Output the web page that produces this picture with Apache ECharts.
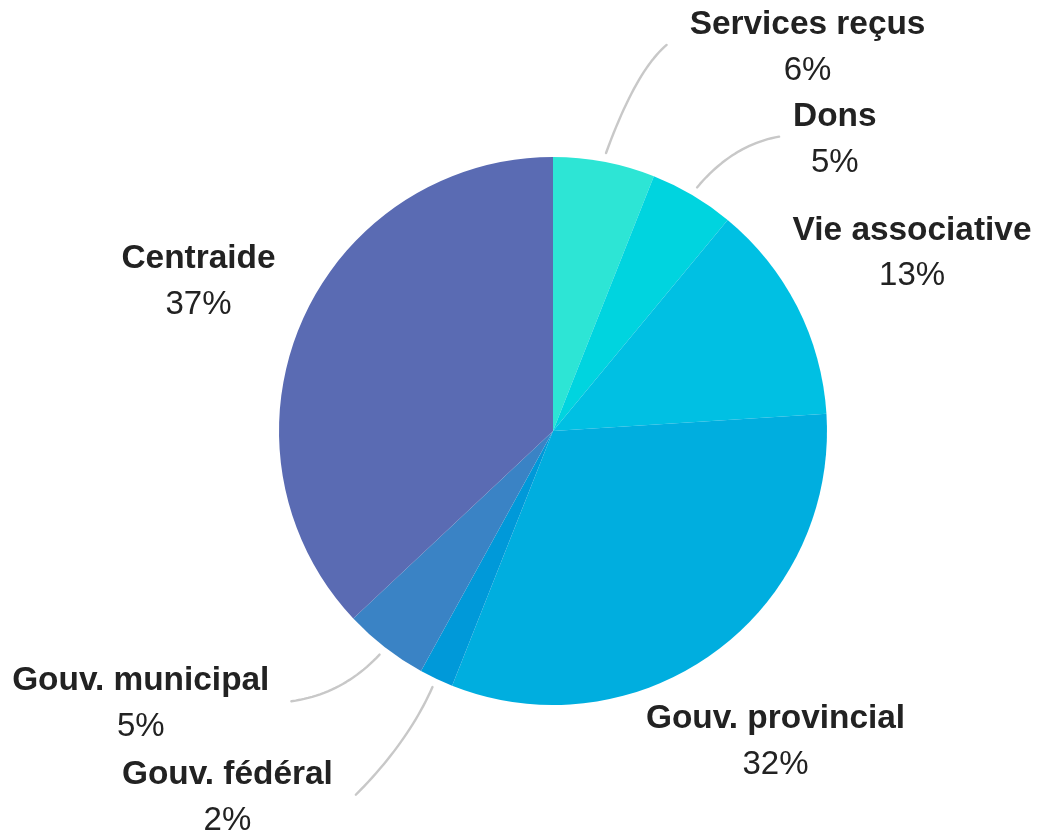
<!DOCTYPE html>
<html>
<head>
<meta charset="utf-8">
<script src="https://cdn.jsdelivr.net/npm/echarts@6/dist/echarts.min.js"></script>
<style>
  html, body { margin: 0; padding: 0; background: #fff; }
  #chart { width: 1048px; height: 838px; }
</style>
</head>
<body>
<div id="chart"></div>
<script>
// sources de revenus (en %)
const categories = ['Services reçus', 'Dons', 'Vie associative', 'Gouv. provincial', 'Gouv. fédéral', 'Gouv. municipal', 'Centraide'];
const values = [6, 5, 13, 32, 2, 5, 37];

const colors = ['#2de5d5', '#00d4df', '#00c0e3', '#00aedf', '#0099d9', '#3a83c5', '#5a6bb3'];

// réglage des étiquettes :
// [longueur, longueur2, distance, ligne visible, angle de départ, angle d'arrivée] (degrés / horizontale)
const labelSetup = [
  [119, 40, 23, true, 70, 40],
  [68, 52, 14, true, 50, 10],
  [124, -115, 0, false, 0, 0],
  [107, -131, 0, false, 0, 0],
  [128, 26, 23, true, 66, 45],
  [68, 52, 22, true, 47, 8],
  [109, -74, 0, false, 0, 0]
];
const pieCenter = [553, 431];
const lineGap = 9;

/**
 * Courbe de la ligne d'étiquette (bézier quadratique échantillonnée)
 */
function curvePoints(q0, p2, a0, a1) {
  let side = p2[0] > q0[0] ? 1 : -1;
  let vs = p2[1] > q0[1] ? 1 : -1;
  let e0 = [side * Math.cos(a0 * Math.PI / 180), vs * Math.sin(a0 * Math.PI / 180)];
  let e1 = [side * Math.cos(a1 * Math.PI / 180), vs * Math.sin(a1 * Math.PI / 180)];
  let w = [p2[0] - q0[0], p2[1] - q0[1]];
  let t = (w[0] * e1[1] - w[1] * e1[0]) / (e0[0] * e1[1] - e0[1] * e1[0]);
  let c = [q0[0] + t * e0[0], q0[1] + t * e0[1]];
  let pts = [];
  for (let i = 0; i <= 24; i++) {
    let k = i / 24, m = 1 - k;
    pts.push([
      m * m * q0[0] + 2 * m * k * c[0] + k * k * p2[0],
      m * m * q0[1] + 2 * m * k * c[1] + k * k * p2[1]
    ]);
  }
  return pts;
}

let chart = echarts.init(document.getElementById('chart'));

let option = {
  backgroundColor: '#fff',
  animation: false,
  series: [
    {
      type: 'pie',
      center: pieCenter,
      radius: 274,
      startAngle: 90,
      clockwise: true,
      avoidLabelOverlap: false,
      itemStyle: { borderWidth: 0 },
      label: {
        show: true,
        position: 'outside',
        color: '#222',
        fontFamily: 'Liberation Sans',
        overflow: 'none',
        formatter: function (p) {
          return '{n|' + p.name + '}\n{p|' + Math.round(p.percent) + '%}';
        },
        rich: {
          n: { fontSize: 33.4, fontWeight: 'bold', lineHeight: 46, align: 'center', color: '#222', fontFamily: 'Liberation Sans' },
          p: { fontSize: 33, lineHeight: 46, align: 'center', color: '#222', fontFamily: 'Liberation Sans' }
        }
      },
      labelLine: {
        show: true,
        smooth: false,
        lineStyle: { color: '#c8c8c8', width: 2.4, cap: 'round', join: 'round' }
      },
      labelLayout: function (params) {
        let s = labelSetup[params.dataIndex];
        let pts = params.labelLinePoints;
        if (!s[3] || !pts) return { dy: 3 };
        let p0 = pts[0], p2 = pts[2];
        // départ un peu détaché de la part
        let rx = p0[0] - pieCenter[0], ry = p0[1] - pieCenter[1];
        let rl = Math.sqrt(rx * rx + ry * ry);
        let q0 = [p0[0] + rx / rl * lineGap, p0[1] + ry / rl * lineGap];
        return { dy: 3, labelLinePoints: curvePoints(q0, [p2[0], p2[1]], s[4], s[5]) };
      },
      data: categories.map((name, i) => {
        let s = labelSetup[i];
        return {
          name: name,
          value: values[i],
          itemStyle: { color: colors[i] },
          label: { distanceToLabelLine: s[2] },
          labelLine: { show: s[3], length: s[0], length2: s[1] }
        };
      })
    }
  ]
};
chart.setOption(option);
</script>
</body>
</html>
